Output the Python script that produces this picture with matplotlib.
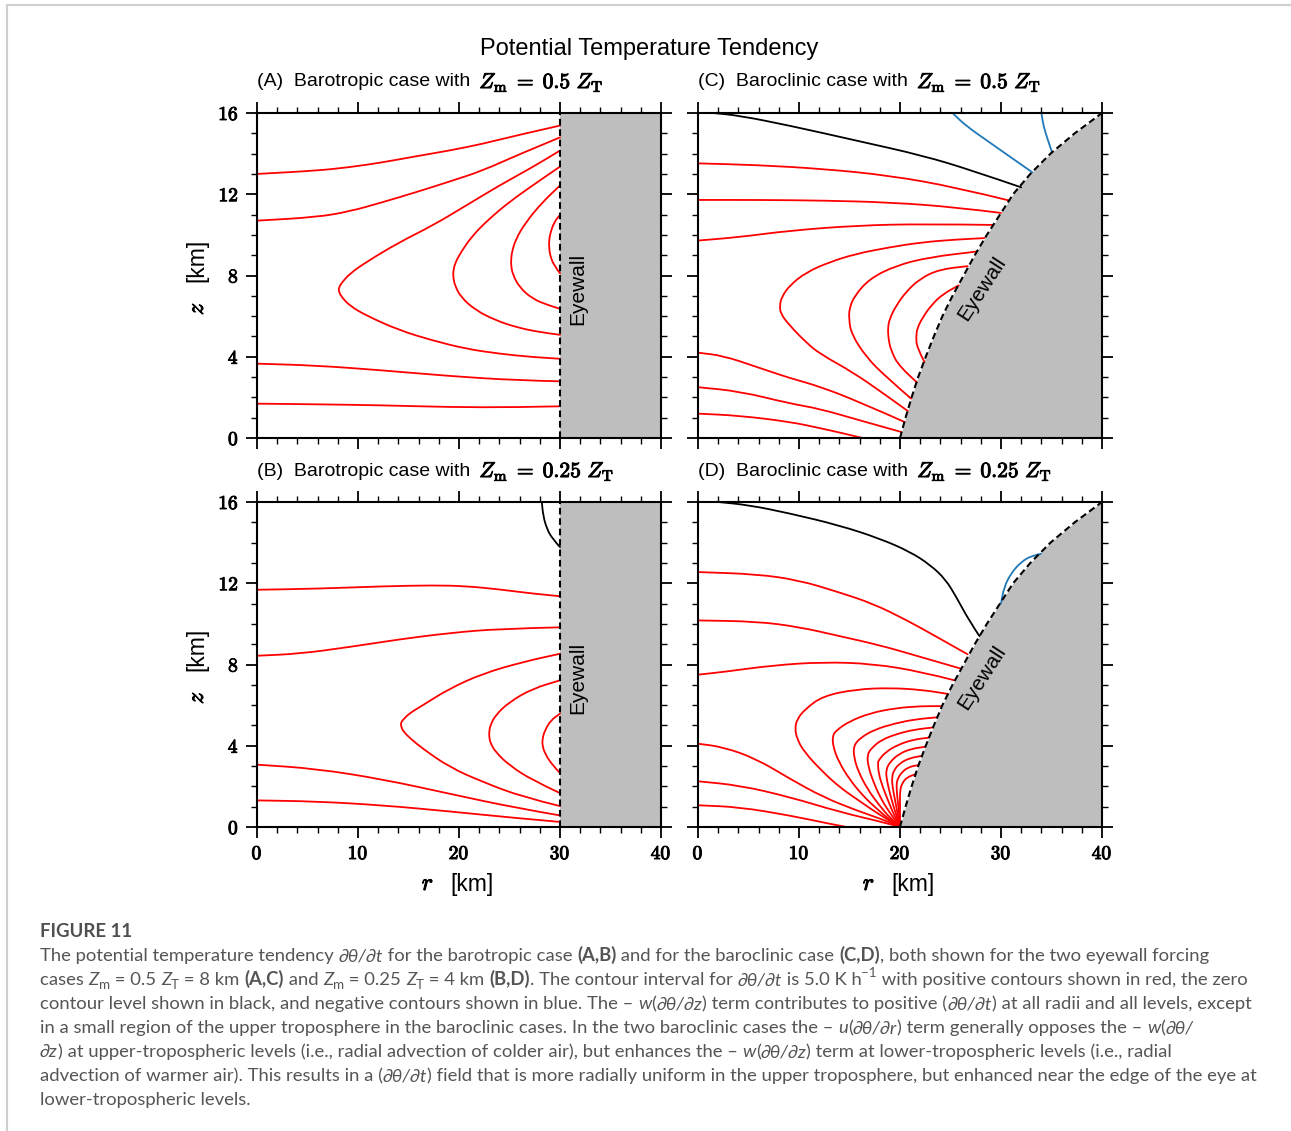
import numpy as np
import matplotlib
matplotlib.use('Agg')
import matplotlib.pyplot as plt
from matplotlib import patheffects
from matplotlib.path import Path
from matplotlib.patches import PathPatch
from matplotlib.lines import Line2D

plt.rcParams['mathtext.fontset'] = 'cm'
plt.rcParams['font.family'] = ['Liberation Sans', 'DejaVu Sans']

# ---------------- data (r in km, z in km) ----------------
# eyewall of the barotropic cases (vertical wall) and baroclinic cases (sloped)
eye_bt_r = [30.0, 30.0]
eye_bt_z = [0.0, 16.0]
eye_bc_z = [0, 1, 2, 3, 4, 5, 6, 7, 8, 9, 10, 11, 12, 13, 14, 15, 16]
eye_bc_r = [20.0, 20.55, 21.15, 21.8, 22.55, 23.35, 24.2, 25.2, 26.3, 27.4,
            28.6, 29.9, 31.2, 32.9, 34.9, 37.3, 40.0]

# (A) barotropic, Zm = 0.5 ZT
a_red = [
    ([0, 5.86, 9.16, 12.45, 15.74, 19.04, 22.33, 25.63, 30],
     [13.0, 13.16, 13.33, 13.57, 13.87, 14.15, 14.48, 14.89, 15.38]),
    ([0, 5.86, 9.16, 12.45, 15.74, 19.04, 22.33, 25.63, 30],
     [10.7, 10.87, 11.15, 11.61, 12.1, 12.62, 13.16, 13.9, 14.8]),
    ([30, 27.27, 23.98, 20.69, 17.39, 14.1, 10.8, 9.16, 8.4, 8.1, 8.1, 8.4, 9.16, 10.8, 14.1, 17.39, 20.69, 23.98, 27.27, 30],
     [14.15, 13.33, 12.43, 11.44, 10.46, 9.64, 8.66, 8.08, 7.65, 7.4, 7.2, 6.93, 6.52, 6.03, 5.3, 4.8, 4.39, 4.15, 3.98, 3.9]),
    ([30, 27.27, 24.96, 22.99, 21.34, 20.19, 19.6, 19.43, 19.43, 19.6, 20.19, 21.67, 23.65, 25.63, 27.93, 30],
     [13.36, 12.43, 11.61, 10.79, 9.97, 9.15, 8.6, 8.2, 7.9, 7.5, 6.93, 6.28, 5.79, 5.46, 5.21, 5.08]),
    ([30, 28.26, 26.61, 25.63, 25.23, 25.16, 25.16, 25.3, 25.96, 27.27, 28.92, 30],
     [12.43, 11.61, 10.62, 9.8, 9.15, 8.75, 8.5, 8.08, 7.43, 6.85, 6.52, 6.36]),
    ([30, 29.41, 29.02, 28.92, 28.92, 29.02, 29.41, 30],
     [10.98, 10.62, 10.05, 9.7, 9.4, 8.98, 8.49, 8.11]),
    ([0, 5.86, 12.45, 19.04, 25.63, 30],
     [3.66, 3.57, 3.33, 3.05, 2.84, 2.79]),
    ([0, 5.86, 12.45, 19.04, 25.63, 30],
     [1.69, 1.66, 1.61, 1.52, 1.51, 1.56]),
]
a_black = []
a_blue = []

# (B) barotropic, Zm = 0.25 ZT
b_red = [
    ([0, 5.86, 12.45, 17.39, 20.69, 23.98, 27.27, 30],
     [11.68, 11.73, 11.85, 11.9, 11.86, 11.7, 11.49, 11.36]),
    ([0, 4.22, 9.16, 14.1, 19.04, 23.98, 30],
     [8.43, 8.53, 8.86, 9.24, 9.55, 9.76, 9.83]),
    ([30, 26.28, 22.33, 19.04, 16.4, 15.1, 14.5, 14.26, 14.26, 14.5, 15.2, 16.4, 19.04, 22.33, 26.28, 30],
     [8.53, 8.12, 7.55, 6.81, 5.99, 5.6, 5.3, 5.15, 4.95, 4.7, 4.35, 3.86, 2.95, 2.22, 1.48, 1.03]),
    ([30, 27.27, 24.97, 23.6, 23.1, 22.99, 22.99, 23.1, 23.6, 24.97, 27.27, 30],
     [7.22, 6.81, 6.15, 5.5, 5.0, 4.7, 4.45, 4.15, 3.7, 3.04, 2.3, 1.67]),
    ([30, 29.08, 28.5, 28.26, 28.26, 28.52, 29.25, 30],
     [5.58, 5.25, 4.75, 4.35, 4.0, 3.61, 3.04, 2.66]),
    ([0, 5.86, 12.45, 19.04, 25.63, 30],
     [3.07, 2.87, 2.35, 1.64, 0.94, 0.57]),
    ([0, 5.86, 12.45, 19.04, 25.63, 30],
     [1.31, 1.26, 1.07, 0.77, 0.44, 0.25]),
]
b_black = [([28.2, 28.33, 28.69, 29.25, 30], [16, 15.34, 14.69, 14.19, 13.78])]
b_blue = []

# (C) baroclinic, Zm = 0.5 ZT
c_red = [
    ([0, 5.8, 12.4, 19.0, 25.55, 30.83], [13.52, 13.44, 13.25, 12.92, 12.34, 11.69]),
    ([0, 6.4, 12.4, 19.0, 25.55, 30.0], [11.72, 11.72, 11.69, 11.6, 11.36, 11.08]),
    ([0, 4.1, 9.07, 15.7, 22.3, 29.18], [9.72, 9.89, 10.21, 10.46, 10.54, 10.49]),
    ([28.35, 25.55, 22.25, 18.96, 15.66, 13.02, 10.72, 9.07, 8.3, 8.08, 8.2, 9.07, 10.72, 12.04, 15.33, 18.63, 20.77],
     [9.84, 9.77, 9.64, 9.39, 9.07, 8.66, 8.16, 7.51, 6.95, 6.52, 6.1, 5.54, 4.7, 4.15, 3.24, 2.1, 1.33]),
    ([27.6, 22.9, 19.6, 16.98, 15.5, 15.0, 14.94, 15.17, 16.66, 18.63, 21.1],
     [9.18, 8.9, 8.49, 7.84, 7.0, 6.4, 5.9, 5.13, 3.98, 3.0, 1.94]),
    ([26.7, 23.9, 22.0, 20.6, 19.6, 19.0, 18.8, 18.85, 19.1, 19.95, 21.66],
     [8.46, 8.3, 7.85, 7.2, 6.5, 5.9, 5.46, 4.9, 4.31, 3.49, 2.75]),
    ([25.8, 24.3, 23.2, 22.26, 21.7, 21.6, 21.66, 22.42],
     [7.51, 7.1, 6.6, 5.95, 5.4, 5.0, 4.47, 3.74]),
    ([0, 2.5, 5.8, 9.07, 12.04, 16.0, 20.45], [4.2, 4.05, 3.5, 2.95, 2.54, 1.77, 0.79]),
    ([0, 4.1, 9.07, 12.04, 16.0, 20.1], [2.5, 2.3, 1.7, 1.44, 0.87, 0.3]),
    ([0, 4.1, 9.07, 12.04, 14.2, 16.3], [1.2, 1.1, 0.8, 0.49, 0.25, 0.0]),
]
c_black = [([1.5, 4.1, 9.07, 15.7, 22.3, 27.2, 32.0],
            [16.0, 15.87, 15.38, 14.64, 13.9, 13.16, 12.34])]
c_blue = [([25.2, 26.5, 28.85, 31.2, 33.1], [16, 15.38, 14.56, 13.74, 13.08]),
          ([34.0, 34.2, 34.6, 35.05], [16, 15.38, 14.72, 14.07])]

# (D) baroclinic, Zm = 0.25 ZT
d_red = [
    ([0, 5.8, 10.0, 14.0, 17.3, 20.6, 23.5, 26.7], [12.55, 12.45, 12.15, 11.55, 11.0, 10.2, 9.4, 8.5]),
    ([0, 5.8, 10.0, 14.0, 18.0, 21.5, 26.0], [10.17, 10.12, 9.85, 9.4, 8.95, 8.45, 7.8]),
    ([0, 2.47, 7.42, 12.36, 17.3, 22.25, 25.4], [7.5, 7.63, 7.96, 8.12, 8.04, 7.63, 7.22]),
    ([24.75, 22.25, 19.0, 15.66, 12.36, 10.6, 9.8, 9.6, 9.8, 10.5, 12.36, 14.0, 15.66, 18.3, 20.0],
     [6.55, 6.75, 6.85, 6.78, 6.45, 5.8, 5.3, 4.85, 4.35, 3.7, 2.71, 1.97, 1.39, 0.49, 0.0]),
    ([24.16, 22.0, 19.5, 17.0, 15.0, 13.8, 13.3, 13.4, 14.0, 15.0, 16.3, 17.8, 19.0, 20.0],
     [5.95, 5.95, 5.85, 5.6, 5.2, 4.8, 4.5, 3.9, 3.15, 2.35, 1.55, 0.85, 0.35, 0.0]),
    ([23.69, 21.5, 19.5, 17.5, 16.1, 15.4, 15.45, 15.9, 16.8, 17.9, 19.0, 20.0],
     [5.4, 5.3, 5.1, 4.8, 4.4, 4.0, 3.4, 2.7, 1.85, 1.1, 0.45, 0.0]),
    ([23.27, 21.5, 19.8, 18.2, 17.2, 16.75, 16.85, 17.3, 18.0, 18.9, 20.0],
     [4.9, 4.8, 4.6, 4.3, 3.9, 3.55, 3.0, 2.3, 1.5, 0.75, 0.0]),
    ([22.87, 21.3, 19.8, 18.6, 17.9, 17.8, 17.9, 18.3, 18.9, 19.4, 20.0],
     [4.4, 4.3, 4.05, 3.7, 3.3, 3.15, 2.6, 1.95, 1.2, 0.6, 0.0]),
    ([22.51, 21.1, 19.9, 19.0, 18.6, 18.7, 19.0, 19.4, 19.75, 20.0],
     [3.95, 3.85, 3.6, 3.2, 2.8, 2.3, 1.65, 0.95, 0.4, 0.0]),
    ([22.17, 21.0, 20.0, 19.4, 19.2, 19.25, 19.5, 19.75, 20.0],
     [3.5, 3.4, 3.15, 2.8, 2.45, 2.0, 1.35, 0.7, 0.0]),
    ([21.84, 20.8, 20.1, 19.75, 19.65, 19.7, 19.85, 19.95, 20.0],
     [3.05, 2.95, 2.65, 2.35, 2.1, 1.6, 1.0, 0.45, 0.0]),
    ([21.54, 20.7, 20.2, 20.0, 20.0, 20.0, 20.0],
     [2.6, 2.45, 2.15, 1.8, 1.2, 0.6, 0.0]),
    ([0, 2.47, 5.77, 9.07, 12.36, 15.66, 18.96, 20.0], [4.1, 3.94, 3.36, 2.38, 1.48, 0.82, 0.25, 0.0]),
    ([0, 4.1, 9.07, 14.0, 18.96, 20.0], [2.25, 2.05, 1.48, 0.74, 0.16, 0.0]),
    ([0, 4.1, 9.07, 13.0, 14.7], [1.07, 0.98, 0.57, 0.16, 0.0]),
]
d_black = [([2.0, 5.0, 9.0, 14.0, 18.0, 21.0, 23.0, 24.5, 25.6, 26.8, 27.86],
            [16.0, 15.85, 15.45, 14.85, 14.2, 13.55, 12.9, 12.2, 11.3, 10.2, 9.4])]
d_blue = [([30.0, 30.3, 31.0, 32.0, 33.0, 33.96], [11.0, 11.8, 12.5, 13.05, 13.35, 13.45])]

x_ticks = [0, 10, 20, 30, 40]
y_ticks = [0, 4, 8, 12, 16]
panel_titles = ['(A)  Barotropic case with', '(B)  Barotropic case with',
                '(C)  Baroclinic case with', '(D)  Baroclinic case with']
panel_frac = ['0.5', '0.25', '0.5', '0.25']

RED = '#ff0000'
BLUE = '#1f78b8'
GRAY = '#bebebe'
bold_fx = [patheffects.withStroke(linewidth=0.7, foreground='black')]


def smooth_line(ax, r, z, color, lw=1.3):
    # quadratic bezier through the mid points of the traced polyline
    p = np.column_stack([r, z]).astype(float)
    if len(p) < 3:
        ax.plot(p[:, 0], p[:, 1], color=color, lw=lw, zorder=3)
        return
    verts = [p[0], (p[0] + p[1]) / 2]
    codes = [Path.MOVETO, Path.LINETO]
    for i in range(1, len(p) - 1):
        end = (p[i] + p[i + 1]) / 2 if i < len(p) - 2 else p[-1]
        verts += [p[i], end]
        codes += [Path.CURVE3, Path.CURVE3]
    ax.add_patch(PathPatch(Path(verts, codes), fill=False, edgecolor=color,
                           lw=lw, zorder=3, capstyle='round'))


W, H = 1291, 1131
fig = plt.figure(figsize=(W / 100, H / 100), dpi=100)
renderer = fig.canvas.get_renderer()


def axrect(l, t, r, b):
    return [l / W, 1 - b / H, (r - l) / W, (b - t) / H]


def fx(px):
    return px / W


def fy(py):
    return 1 - py / H


axA = fig.add_axes(axrect(257, 113, 661, 438))
axB = fig.add_axes(axrect(257, 502, 661, 827))
axC = fig.add_axes(axrect(698, 113, 1102, 438))
axD = fig.add_axes(axrect(698, 502, 1102, 827))

panels = [
    (axA, a_red, a_black, a_blue, eye_bt_r, eye_bt_z, False, True, 113),
    (axB, b_red, b_black, b_blue, eye_bt_r, eye_bt_z, True, True, 502),
    (axC, c_red, c_black, c_blue, eye_bc_r, eye_bc_z, False, False, 113),
    (axD, d_red, d_black, d_blue, eye_bc_r, eye_bc_z, True, False, 502),
]

for k, (ax, reds, blacks, blues, er, ez, xlab, ylab, top) in enumerate(panels):
    ax.set_xlim(0, 40)
    ax.set_ylim(0, 16)
    ax.fill_betweenx(ez, er, 40, color=GRAY, lw=0, zorder=1)
    ax.plot(er, ez, color='black', lw=1.5, ls=(0, (3.2, 1.8)), zorder=4)
    for r, z in reds:
        smooth_line(ax, r, z, RED)
    for r, z in blacks:
        smooth_line(ax, r, z, 'black')
    for r, z in blues:
        smooth_line(ax, r, z, BLUE)

    ax.set_xticks(x_ticks)
    ax.set_xticks(np.arange(0, 41, 2), minor=True)
    ax.set_yticks(y_ticks)
    ax.set_yticks(np.arange(0, 17, 1), minor=True)
    ax.set_xticklabels([r'$\mathbf{%d}$' % v for v in x_ticks] if xlab else [],
                       fontsize=14, path_effects=bold_fx)
    ax.set_yticklabels([r'$\mathbf{%d}$' % v for v in y_ticks] if ylab else [],
                       fontsize=14, path_effects=bold_fx)
    ax.tick_params(which='both', direction='out', top=True, right=True)
    ax.tick_params(which='major', length=8, width=1.3, pad=5)
    ax.tick_params(which='minor', length=4.5, width=1.0)
    for s in ax.spines.values():
        s.set_linewidth(1.5)
        s.set_zorder(5)

    x0 = 257 if k < 2 else 698
    t = fig.text(fx(x0), fy(top - 31), panel_titles[k], ha='left', va='center', fontsize=14)
    x1 = t.get_window_extent(renderer).x1 + 9
    fig.text(x1 / W, fy(top - 31),
             r'$Z_{\mathrm{m}}\;=\;' + panel_frac[k] + r'\ Z_{\mathrm{T}}$',
             ha='left', va='center', fontsize=15.5, path_effects=bold_fx)

    if k < 2:
        ax.text(31.75, 7.35, 'Eyewall', rotation=90, ha='center', va='center',
                fontsize=15, zorder=6)
    else:
        ax.text(28.1, 7.36, 'Eyewall', rotation=57, ha='center', va='center',
                fontsize=15, zorder=6, rotation_mode='anchor')
    xc = x0 + 202
    yc = top + 162.5
    if xlab:
        fig.text(fx(xc - 31), fy(884), r'$r$', ha='center', va='center', fontsize=17,
                 path_effects=bold_fx)
        fig.text(fx(xc + 13), fy(884), '[km]', ha='center', va='center', fontsize=16.5)
    if ylab:
        fig.text(fx(197), fy(yc + 33), r'$z$', ha='center', va='center', fontsize=17,
                 rotation=90, path_effects=bold_fx)
        fig.text(fx(197), fy(yc - 15), '[km]', ha='center', va='center', fontsize=16.5,
                 rotation=90)

fig.text(fx(649), fy(49), 'Potential Temperature Tendency', ha='center',
         va='center', fontsize=17)

# page border of the screenshot
fig.add_artist(Line2D([fx(7), 1], [fy(5), fy(5)], color='#cfcfcf', lw=1.5))
fig.add_artist(Line2D([fx(7), fx(7)], [0, fy(5)], color='#cfcfcf', lw=1.5))

# ---------------- caption ----------------
cap_font = ['Lato', 'DejaVu Sans']
cap_color = '#555555'
caption = [
    [("The potential temperature tendency ", 'n'), ("∂θ/∂t", 'i'), (" for the barotropic case ", 'n'),
     ("(A,B)", 'b'), (" and for the baroclinic case ", 'n'), ("(C,D)", 'b'),
     (", both shown for the two eyewall forcing", 'n')],
    [("cases ", 'n'), ("Z", 'i'), ("m", 'sub'), (" = 0.5 ", 'n'), ("Z", 'i'), ("T", 'sub'),
     (" = 8 km ", 'n'), ("(A,C)", 'b'), (" and ", 'n'), ("Z", 'i'), ("m", 'sub'), (" = 0.25 ", 'n'),
     ("Z", 'i'), ("T", 'sub'), (" = 4 km ", 'n'), ("(B,D)", 'b'), (". The contour interval for ", 'n'),
     ("∂θ/∂t", 'i'), (" is 5.0 K h", 'n'), ("−1", 'sup'),
     (" with positive contours shown in red, the zero", 'n')],
    [("contour level shown in black, and negative contours shown in blue. The – ", 'n'), ("w", 'i'),
     ("(", 'n'), ("∂θ/∂z", 'i'), (") term contributes to positive (", 'n'), ("∂θ/∂t", 'i'),
     (") at all radii and all levels, except", 'n')],
    [("in a small region of the upper troposphere in the baroclinic cases. In the two baroclinic cases the – ", 'n'),
     ("u", 'i'), ("(", 'n'), ("∂θ/∂r", 'i'), (") term generally opposes the – ", 'n'), ("w", 'i'),
     ("(", 'n'), ("∂θ/", 'i')],
    [("∂z", 'i'), (") at upper-tropospheric levels (i.e., radial advection of colder air), but enhances the – ", 'n'),
     ("w", 'i'), ("(", 'n'), ("∂θ/∂z", 'i'), (") term at lower-tropospheric levels (i.e., radial", 'n')],
    [("advection of warmer air). This results in a (", 'n'), ("∂θ/∂t", 'i'),
     (") field that is more radially uniform in the upper troposphere, but enhanced near the edge of the eye at", 'n')],
    [("lower-tropospheric levels.", 'n')],
]
cap_base = [961, 985, 1009, 1033, 1057, 1081, 1105]


def style_of(kind):
    return ('bold' if kind == 'b' else 'normal',
            'italic' if kind == 'i' else 'normal')


def run_width(s, size, kind):
    wt, st = style_of(kind)
    t = fig.text(0, 0, '|' + s + '|', fontsize=size, fontweight=wt, fontstyle=st, family=cap_font)
    w1 = t.get_window_extent(renderer).width
    t.set_text('||')
    w2 = t.get_window_extent(renderer).width
    t.remove()
    return w1 - w2


def line_width(runs, size):
    return sum(run_width(s, size * (0.72 if k in ('sub', 'sup') else 1), k) for s, k in runs)


cap_size = 10 * 1220 / max(line_width(runs, 10) for runs in caption)

for runs, yb in zip(caption, cap_base):
    x = 40
    for s, kind in runs:
        sz = cap_size * (0.72 if kind in ('sub', 'sup') else 1)
        dy = {'sub': 0.22, 'sup': -0.45}.get(kind, 0) * cap_size * 100 / 72
        wt, st = style_of(kind)
        fig.text(fx(x), fy(yb + dy), s, fontsize=sz, fontweight=wt, fontstyle=st,
                 family=cap_font, color=cap_color, va='baseline', ha='left')
        x += run_width(s, sz, kind)

fsize = 10 * 92 / run_width('FIGURE 11', 10, 'b')
fig.text(fx(40), fy(937), 'FIGURE 11', fontsize=fsize, fontweight='bold',
         family=cap_font, color='#505050', va='baseline', ha='left')

fig.savefig('out.png', dpi=100)
